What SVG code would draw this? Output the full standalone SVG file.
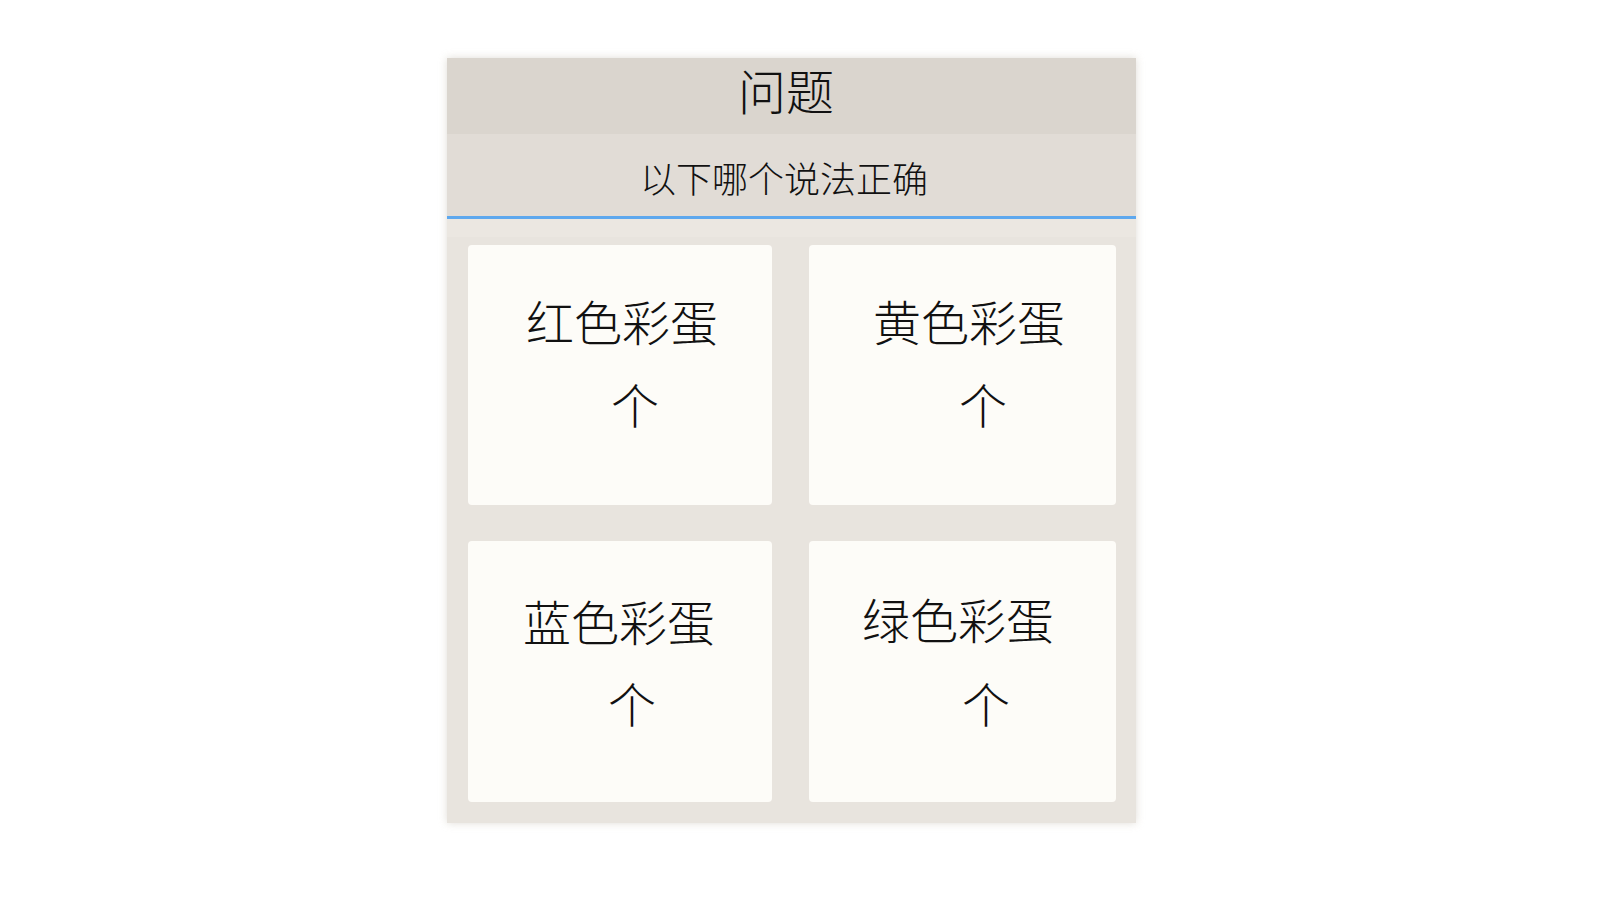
<svg xmlns="http://www.w3.org/2000/svg" width="1600" height="900" viewBox="0 0 1600 900">
<defs>
<filter id="shadow" x="-5%" y="-5%" width="110%" height="110%">
<feGaussianBlur stdDeviation="4"/>
</filter>
<style>
.cjk{font-family:"Noto Sans CJK SC","Noto Sans",sans-serif;fill:#111;text-anchor:middle;font-weight:300}
.card{fill:#fdfcf8}
.lbl{font-size:48px}
.arr{font-size:48px}
</style>
</defs>
<rect width="1600" height="900" fill="#ffffff"/>
<g id="panel">
<rect x="447" y="58" width="689" height="765" fill="#d8d3cc" filter="url(#shadow)" opacity="0.8"/>
<rect x="447" y="58" width="689" height="765" fill="#e8e4de"/>
<rect x="447" y="58" width="689" height="76" fill="#dad5ce"/>
<rect x="447" y="134" width="689" height="83" fill="#e1dcd6"/>
<rect x="447" y="219" width="689" height="18" fill="#ebe7e1"/>
<line x1="447" y1="217.5" x2="1136" y2="217.5" stroke="#5ea8ee" stroke-width="3"/>
</g>
<g id="title">
<text class="cjk" x="786" y="110" font-size="48">问题</text>
</g>
<g id="question">
<text class="cjk" x="784" y="193" font-size="36">以下哪个说法正确</text>
</g>
<g id="card-red">
<rect class="card" x="468" y="245" width="304" height="260" rx="4"/>
<text class="cjk lbl" x="622" y="341">红色彩蛋</text>
<text class="cjk arr" x="635" y="424">个</text>
</g>
<g id="card-yellow">
<rect class="card" x="809" y="245" width="307" height="260" rx="4"/>
<text class="cjk lbl" x="969" y="341">黄色彩蛋</text>
<text class="cjk arr" x="983" y="424">个</text>
</g>
<g id="card-blue">
<rect class="card" x="468" y="541" width="304" height="261" rx="4"/>
<text class="cjk lbl" x="619" y="641">蓝色彩蛋</text>
<text class="cjk arr" x="632" y="723">个</text>
</g>
<g id="card-green">
<rect class="card" x="809" y="541" width="307" height="261" rx="4"/>
<text class="cjk lbl" x="958" y="639">绿色彩蛋</text>
<text class="cjk arr" x="986" y="723">个</text>
</g>
</svg>
